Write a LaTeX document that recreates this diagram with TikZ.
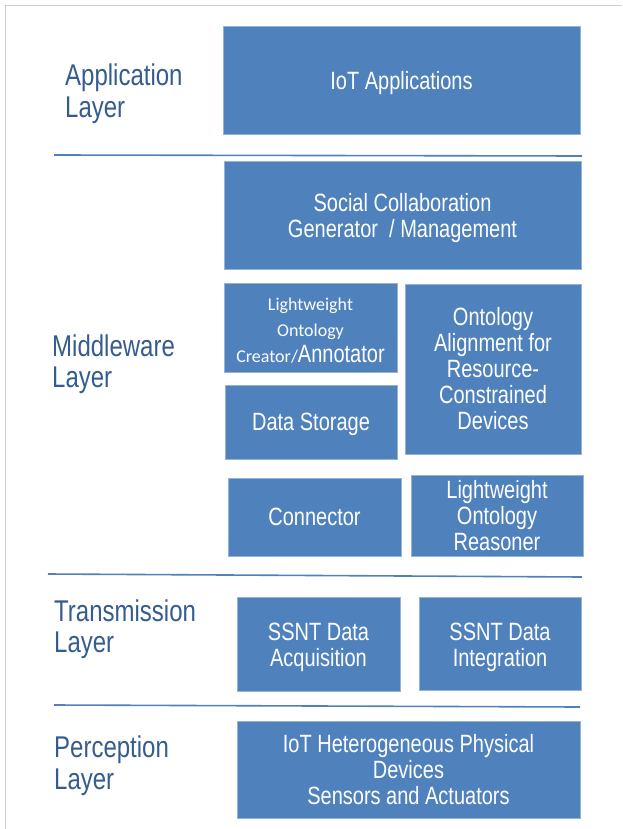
\documentclass[tikz,border=0pt]{standalone}
\usepackage{fontspec}
\setmainfont{Liberation Sans}[FakeStretch=0.8]
\newfontfamily\calibri{Carlito}
\usepackage{tikz}
\usetikzlibrary{positioning}

\definecolor{boxblue}{RGB}{79,129,189}
\definecolor{labelblue}{RGB}{52,92,142}
\definecolor{framegray}{RGB}{208,208,208}
\newcommand{\topgap}{\rule{0pt}{25pt}}

\begin{document}
\begin{tikzpicture}[x=1pt,y=-1pt,
layerbox/.style={fill=boxblue,draw=boxblue!60!white,line width=0.6pt,text=white,
  inner sep=0pt,align=center,font=\fontsize{25}{26}\selectfont},
layerlabel/.style={anchor=west,text=labelblue,inner sep=0pt,align=left,
  font=\fontsize{30}{31.5}\selectfont},
sepline/.style={draw=boxblue,line width=1.6pt}]
\useasboundingbox (0,0) rectangle (622,829);
% frame
\draw[framegray,line width=1pt] (622,6) -- (5,6) -- (5,829);

% layer names
\node[layerlabel] (lapp) at (65,93.5) {Application\\Layer};
\node[layerlabel] (lmid) at (52,364) {Middleware\\Layer};
\node[layerlabel] (ltra) at (54,629) {Transmission\\Layer};
\node[layerlabel] (lper) at (54,765.5) {Perception\\Layer};

% application layer
\node[layerbox,minimum width=357,minimum height=108] (app) at (401.5,80) {\topgap IoT Applications};

% middleware layer
\node[layerbox,minimum width=357,minimum height=108] (social) at (402.5,215)
  {\topgap Social Collaboration\\Generator\ \ / Management};
\node[layerbox,minimum width=173,minimum height=89] (creator) at (310.5,327.5)
  {{\calibri\fontsize{18}{24}\selectfont\rule{0pt}{18pt}Lightweight}\\
   {\calibri\fontsize{18}{24}\selectfont Ontology}\\
   {\calibri\fontsize{18}{24}\selectfont Creator/}Annotator};
\node[layerbox,minimum width=172,minimum height=74] (storage) at (311,422) {\rule{0pt}{22pt}Data Storage};
\node[layerbox,minimum width=176,minimum height=170] (align) at (493,369)
  {Ontology\\Alignment for\\Resource-\\Constrained\\Devices};
\node[layerbox,minimum width=173,minimum height=78] (connector) at (314.5,517) {Connector};
\node[layerbox,minimum width=172,minimum height=81] (reasoner) at (497,515.5)
  {Lightweight\\Ontology\\Reasoner};

% transmission layer
\node[layerbox,minimum width=163,minimum height=94] (acq) at (318.5,644)
  {\topgap SSNT Data\\Acquisition};
\node[layerbox,minimum width=162,minimum height=93] (integ) at (500,643.5)
  {\topgap SSNT Data\\Integration};

% perception layer
\node[layerbox,minimum width=343,minimum height=97] (devices) at (408.5,769.5)
  {IoT Heterogeneous Physical\\Devices\\Sensors and Actuators};

% separators
\coordinate (s1a) at (54,155);  \coordinate (s1b) at (582,156);
\coordinate (s2a) at (48,574);  \coordinate (s2b) at (582,577);
\coordinate (s3a) at (54,705);  \coordinate (s3b) at (580,707);
\draw[sepline] (s1a) -- (s1b);
\draw[sepline] (s2a) -- (s2b);
\draw[sepline] (s3a) -- (s3b);
\end{tikzpicture}
\end{document}
